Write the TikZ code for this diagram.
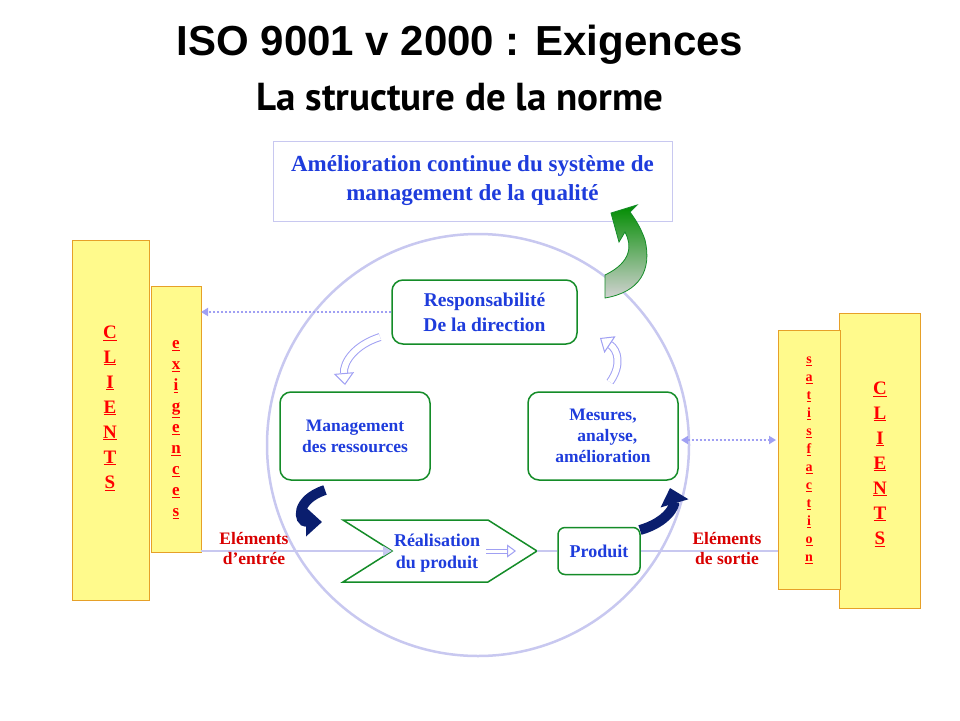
\documentclass[tikz,border=0pt]{standalone}
\usepackage{fontspec}
\setmainfont{Liberation Serif}
\newfontfamily\titlefont{Liberation Sans}
\newfontfamily\subfont{PT Sans}
\usetikzlibrary{arrows.meta,shapes.misc}
\definecolor{lav}{RGB}{200,200,240}
\definecolor{txtblue}{RGB}{30,60,220}
\definecolor{gbord}{RGB}{20,140,40}
\definecolor{ybox}{RGB}{255,250,140}
\definecolor{obord}{RGB}{230,160,40}
\definecolor{navy}{RGB}{10,30,110}
\tikzset{
 gbox/.style={draw=gbord,line width=1.5pt,rounded corners=11pt,fill=white,font=\bfseries\fontsize{19.5}{25}\selectfont,text=txtblue,align=center},
 ybx/.style={draw=obord,fill=ybox,line width=0.8pt},
 letters/.style={text=red,font=\bfseries\fontsize{19}{25}\selectfont,align=center},
 redlbl/.style={text=red!85!black,font=\bfseries\fontsize{17.5}{20}\selectfont,align=center},
 flow/.style={lav,line width=2.5pt},
 dots/.style={lav!80!blue,line width=2pt,dotted},
 bigarrow/.style={navy,line width=10pt,-{Triangle[length=16pt,width=28pt]}},
 lightarrow/.style={draw=lav!80!blue,double=white,double distance=6pt,line width=1pt,-{Triangle[open,length=12pt,width=20pt]}}
}
\begin{document}
\begin{tikzpicture}[x=1pt,y=-1pt]
\useasboundingbox (0,0) rectangle (960,720);
\fill[white] (0,0) rectangle (960,720);
\node (t1) at (460,45) {\titlefont\bfseries\fontsize{42}{46}\selectfont ISO 9001 v 2000 : Exigences};
\node (t2) at (460,97) {\subfont\bfseries\fontsize{39}{42}\selectfont La structure de la norme};
\node[draw=lav,line width=0.8pt,minimum width=399pt,minimum height=80pt,align=center,text=txtblue,font=\bfseries\fontsize{23}{29}\selectfont] (ame) at (472.5,181) {Amélioration continue du système de\\management de la qualité};
\draw[lav,line width=2.5pt] (478,445) circle (211);
% yellow boxes
\draw[ybx] (72,240) rectangle (149,600);
\node[ybx,minimum width=50pt,minimum height=266pt] (exi) at (176,419) {};
\node[letters] (cl) at (110,408) {\underline{C}\\\underline{L}\\\underline{I}\\\underline{E}\\\underline{N}\\\underline{T}\\\underline{S}};
\node[letters,font=\bfseries\fontsize{17}{21}\selectfont] at (176,430) {\underline{e}\\\underline{x}\\\underline{i}\\\underline{g}\\\underline{e}\\\underline{n}\\\underline{c}\\\underline{e}\\\underline{s}};
\draw[ybx] (839,313) rectangle (920,608);
\node[ybx,minimum width=62pt,minimum height=259pt] (sat) at (809,460) {};
\node[letters,font=\bfseries\fontsize{14}{18}\selectfont] at (809,460) {\underline{s}\\\underline{a}\\\underline{t}\\\underline{i}\\\underline{s}\\\underline{f}\\\underline{a}\\\underline{c}\\\underline{t}\\\underline{i}\\\underline{o}\\\underline{n}};
\node[letters] at (880,464) {\underline{C}\\\underline{L}\\\underline{I}\\\underline{E}\\\underline{N}\\\underline{T}\\\underline{S}};
% green boxes
\node[gbox,minimum width=185pt,minimum height=64pt] (resp) at (484.5,312) {Responsabilité\\De la direction};
\node[gbox,minimum width=150pt,minimum height=88pt,font=\bfseries\fontsize{17.5}{21}\selectfont] (man) at (355,436) {Management\\des ressources};
\node[gbox,minimum width=150pt,minimum height=88pt,font=\bfseries\fontsize{17.5}{21}\selectfont] (mes) at (603,436) {Mesures,\\\ \ analyse,\\amélioration};
\node[gbox,minimum width=82pt,minimum height=47pt,rounded corners=7pt,font=\bfseries\fontsize{18}{20}\selectfont] (prod) at (599,551) {Produit};
% chevron
\coordinate (notch) at (392,551);
\coordinate (tip) at (537,551);
\draw[gbord,line width=1.5pt,fill=white] (343,520) -- (488,520) -- (tip) -- (488,582) -- (343,582) -- (notch) -- cycle;
\node[text=txtblue,font=\bfseries\fontsize{18}{22}\selectfont,align=center] (real) at (437,553) {Réalisation\\du produit};
\draw[lightarrow,double distance=3pt,-{Triangle[open,length=9pt,width=13pt]}] (486,551) -- (516,551);
% flow
\coordinate (inL) at (201,551);
\coordinate (outR) at (778,551);
\draw[flow,-{Triangle[length=9pt,width=10pt]}] (inL) -- (notch);
\draw[flow] (tip) -- (prod.west);
\draw[flow] (prod.east) -- (outR);
\node[redlbl] (ein) at (254,548) {Eléments\\d’entrée};
\node[redlbl] (eout) at (727,548) {Eléments\\de sortie};
% dotted
\coordinate (exR) at (201,312);
\draw[dots,-{Triangle[length=7pt,width=8pt]}] (resp.west) -- (exR);
\coordinate (m1) at (681,440);
\coordinate (m2) at (776,440);
\draw[dots,{Triangle[length=7pt,width=8pt]}-{Triangle[length=7pt,width=8pt]}] (m1) -- (m2);
% navy arrows
\draw[bigarrow] (325,490) .. controls (295,500) and (298,522) .. (322,522);
\draw[bigarrow] (640,530) .. controls (668,522) and (675,505) .. (670,488);
% light arrows
\draw[lightarrow] (380,337) .. controls (355,345) and (343,362) .. (345,385);
\draw[lightarrow] (610,382) .. controls (622,365) and (618,350) .. (600,338);
% green arrow
\shade[top color=green!55!black,bottom color=gray!35,draw=gbord,line width=0.8pt]
 (605,298) .. controls (640,292) and (652,270) .. (645,240) .. controls (640,225) and (632,215) .. (630,212)
 -- (637,205) -- (611,213) -- (619,242) -- (625,232)
 .. controls (632,245) and (632,262) .. (605,275) -- cycle;
\end{tikzpicture}
\end{document}
